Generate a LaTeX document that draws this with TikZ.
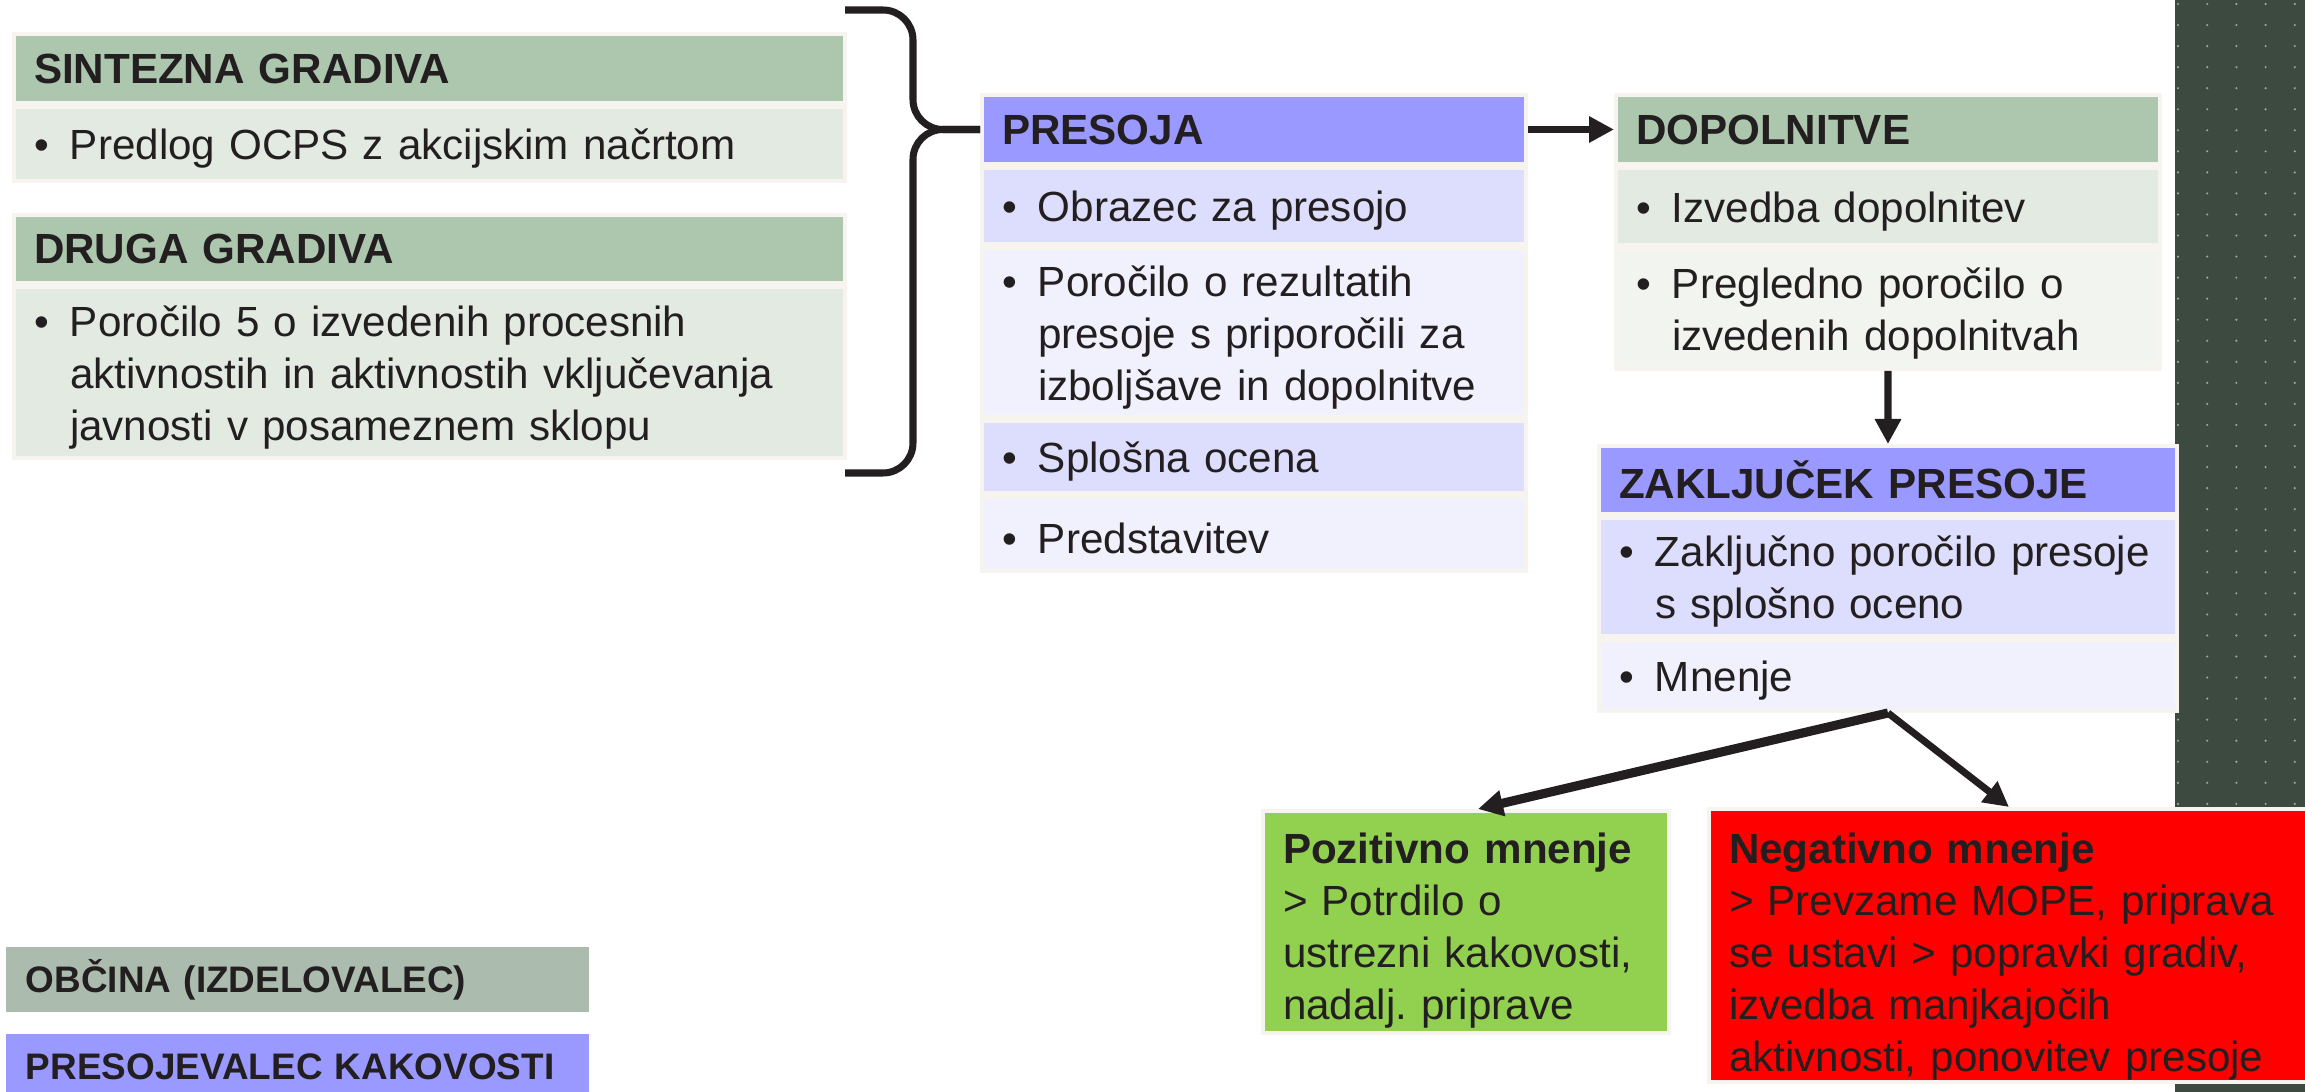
\documentclass[tikz,border=0pt]{standalone}
\usepackage{fontspec}
\setmainfont{Liberation Sans}
\usepackage{tikz}
\usetikzlibrary{positioning}
\usetikzlibrary{arrows.meta}
\frenchspacing

\definecolor{ink}{HTML}{231F20}
\definecolor{frame}{HTML}{F7F3EF}
\definecolor{hdrgreen}{HTML}{ACC7AD}
\definecolor{bodygreen}{HTML}{E2EAE2}
\definecolor{bodygreenlt}{HTML}{F2F4F0}
\definecolor{hdrblue}{HTML}{9999FF}
\definecolor{bodyblue}{HTML}{DDDDFD}
\definecolor{bodybluelt}{HTML}{F1F1FD}
\definecolor{legendgreen}{HTML}{ABBCAE}
\definecolor{okgreen}{HTML}{92D050}
\definecolor{badred}{HTML}{FF0000}
\definecolor{stripe}{HTML}{3C4A40}
\definecolor{dotc}{HTML}{9DA59F}

% bullet with hanging text
\newcommand{\itm}[1]{\rule{0pt}{0.4cm}\makebox[0.36cm][l]{\textbullet}\parbox[t]{\dimexpr\linewidth-0.36cm\relax}{#1}}

\tikzset{
  cell/.style={draw=frame, line width=0.04cm, inner xsep=0.2cm, inner ysep=0cm,
    align=left, text=ink, font=\fontsize{12}{14.8}\selectfont},
  head/.style={cell, font=\fontsize{12}{14.8}\selectfont\bfseries},
  legend/.style={head, draw=none, text width=5.43cm, minimum height=0.65cm,
    font=\fontsize{10.5}{12}\selectfont\bfseries, anchor=north west},
  colL/.style={text width=7.91cm},
  colM/.style={text width=5.04cm},
  colZ/.style={text width=5.38cm},
  flow/.style={->, line width=2pt, draw=ink},
  brc/.style={line width=2pt, draw=ink, rounded corners=0.3cm},
}

\begin{document}
\begin{tikzpicture}[node distance=0cm, >={Triangle[length=2.5mm, width=2.5mm]}]

% Manually size the picture
\useasboundingbox (0, 0) rectangle (23.05, -10.92);

% Dotted strip on the right
\fill[stripe] (21.75, 0) rectangle (23.05, -10.92);
\foreach \i in {0,...,4}
  \foreach \j in {0,...,51}
    \fill[dotc] ({21.78 + 0.292*\i}, {-0.04 - 0.2105*\j}) circle (0.012);

% Input materials
\node[head, colL, fill=hdrgreen, minimum height=0.69cm, anchor=north west] (sint) at (0.12, -0.32) {SINTEZNA GRADIVA};
\node[cell, colL, fill=bodygreen, minimum height=0.74cm, below=of sint] (sintA) {\itm{Predlog OCPS z akcijskim načrtom}};
\node[head, colL, fill=hdrgreen, minimum height=0.68cm, anchor=north west] (druga) at (0.12, -2.13) {DRUGA GRADIVA};
\node[cell, colL, fill=bodygreen, minimum height=1.71cm, below=of druga] (drugaA) {\itm{Poročilo 5 o izvedenih procesnih\newline aktivnostih in aktivnostih vključevanja\newline javnosti v posameznem sklopu}};

% Assessment
\node[head, colM, fill=hdrblue, minimum height=0.69cm, anchor=north west] (pres) at (9.80, -0.93) {PRESOJA};
\node[cell, colM, fill=bodyblue, minimum height=0.76cm, below=of pres] (presA) {\itm{Obrazec za presojo}};
\node[cell, colM, fill=bodybluelt, minimum height=1.69cm, below=of presA] (presB) {\itm{Poročilo o rezultatih\newline presoje s priporočili za\newline izboljšave in dopolnitve}};
\node[cell, colM, fill=bodyblue, minimum height=0.72cm, below=of presB] (presC) {\itm{Splošna ocena}};
\node[cell, colM, fill=bodybluelt, minimum height=0.74cm, below=of presC] (presD) {\itm{Predstavitev}};

% Supplements
\node[head, colM, fill=hdrgreen, minimum height=0.69cm, anchor=north west] (dop) at (16.14, -0.93) {DOPOLNITVE};
\node[cell, colM, fill=bodygreen, minimum height=0.77cm, below=of dop] (dopA) {\itm{Izvedba dopolnitev}};
\node[cell, colM, fill=bodygreenlt, minimum height=1.20cm, below=of dopA] (dopB) {\itm{Pregledno poročilo o\newline izvedenih dopolnitvah}};

% Conclusion
\node[head, colZ, fill=hdrblue, minimum height=0.68cm, anchor=north west] (zak) at (15.97, -4.44) {ZAKLJUČEK PRESOJE};
\node[cell, colZ, fill=bodyblue, minimum height=1.18cm, below=of zak] (zakA) {\itm{Zaključno poročilo presoje\newline s splošno oceno}};
\node[cell, colZ, fill=bodybluelt, minimum height=0.71cm, below=of zakA] (zakB) {\itm{Mnenje}};

% Outcomes
\node[cell, fill=okgreen, text width=3.66cm, minimum height=2.22cm, anchor=north west] (pos) at (12.61, -8.09)
  {\rule{0pt}{0.48cm}\textbf{Pozitivno mnenje}\\ > Potrdilo o\\ ustrezni kakovosti,\\ nadalj. priprave};
\node[cell, fill=badred, text width=5.6cm, minimum height=2.73cm, anchor=north west] (neg) at (17.07, -8.07)
  {\rule{0pt}{0.53cm}\textbf{Negativno mnenje}\\ > Prevzame MOPE, priprava\\ se ustavi > popravki gradiv,\\ izvedba manjkajočih\\ aktivnosti, ponovitev presoje};

% Legend
\node[legend, fill=legendgreen] (obc) at (0.04, -9.45) {OBČINA (IZDELOVALEC)};
\node[legend, fill=hdrblue] (presk) at (0.04, -10.32) {PRESOJEVALEC KAKOVOSTI};

% Brace joining the materials
\coordinate (brTop) at (8.45, -0.10);
\coordinate (brBot) at (8.45, -4.73);
\draw[brc] (brTop) -| ([xshift=-6.7mm]pres.west) -- (pres.west);
\draw[brc] (brBot) -| ([xshift=-6.7mm]pres.west) -- (pres.west);

% Flow
\draw[flow] (pres.east) -- (dop.west);
\draw[flow] (dopB.south) -- (zak.north);
\draw[flow, line width=2.6pt] (zakB.south) -- ([xshift=1.2mm]pos.north);
\draw[flow] (zakB.south) -- (neg.north);

\end{tikzpicture}
\end{document}
